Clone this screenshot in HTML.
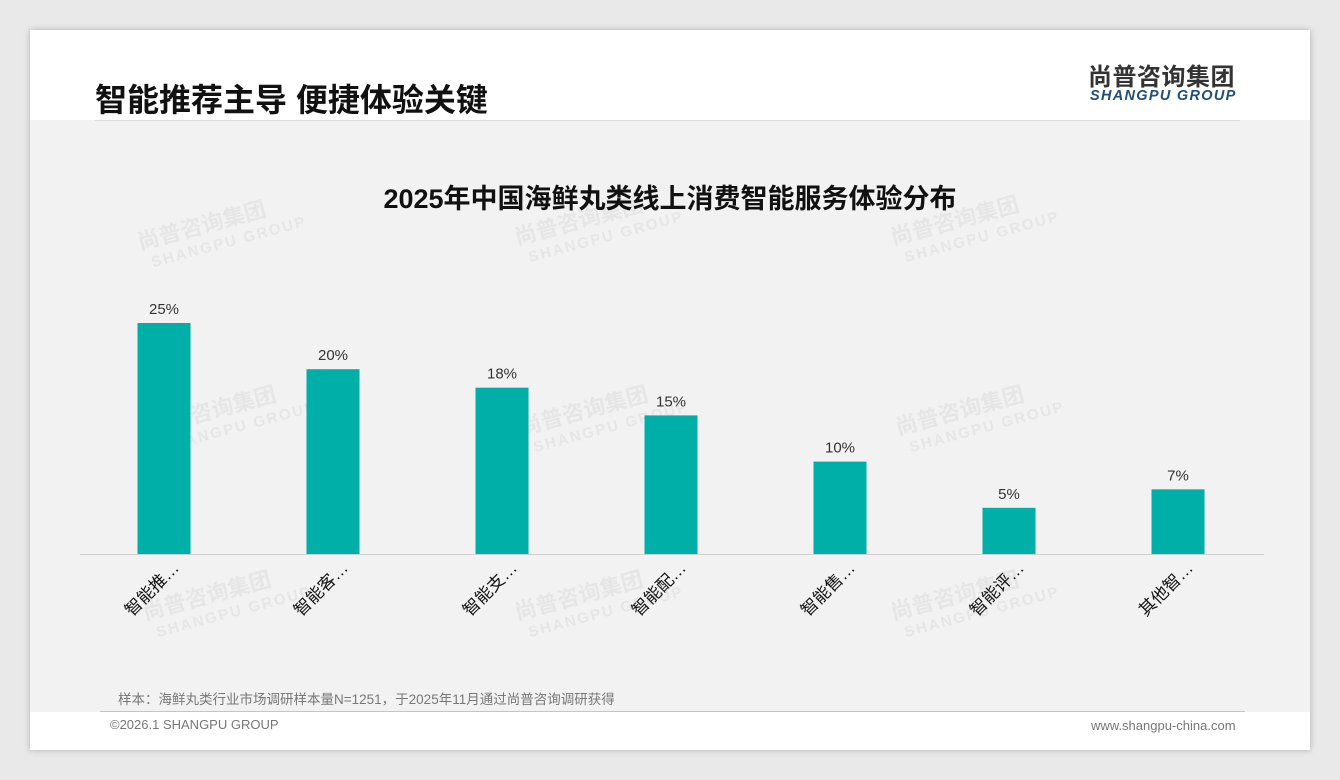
<!DOCTYPE html>
<html><head><meta charset="utf-8"><style>
body{margin:0;width:1340px;height:780px;background:#e9e9e9;font-family:"Liberation Sans","Noto Sans CJK SC",sans-serif;position:relative;overflow:hidden}
.card{position:absolute;left:30px;top:30px;width:1280px;height:720px;background:#fff;box-shadow:0 0 6px rgba(0,0,0,.25)}
.content{position:absolute;left:30px;top:120px;width:1280px;height:592px;background:#f2f2f2}
.abs{position:absolute}
</style></head><body>
<div class="card"></div>
<div class="content"></div>
<svg class="abs" style="left:0;top:0" width="1340" height="780" id="chart"></svg>
<div class="abs" style="left:95px;top:75px;font-size:32px;font-weight:bold;color:#111">智能推荐主导 便捷体验关键</div>
<div class="abs" style="left:1088px;top:57px;font-size:24px;font-weight:bold;color:#333;letter-spacing:0.5px">尚普咨询集团</div>
<div class="abs" style="left:1090px;top:88px;font-size:14.5px;font-weight:bold;font-style:italic;color:#1f4e79;letter-spacing:1.3px">SHANGPU GROUP</div>
<div class="abs" style="left:95px;top:120px;width:1145px;height:1px;background:#ddd"></div>
<div class="abs" style="left:0;width:1340px;text-align:center;top:177px;font-size:27px;font-weight:bold;color:#111">2025年中国海鲜丸类线上消费智能服务体验分布</div>
<div class="abs" style="left:118px;top:688px;font-size:13.5px;color:#777">样本：海鲜丸类行业市场调研样本量N=1251，于2025年11月通过尚普咨询调研获得</div>
<div class="abs" style="left:100px;top:711px;width:1145px;height:1px;background:#b8c8d8"></div>
<div class="abs" style="left:110px;top:717px;font-size:13px;color:#777">©2026.1 SHANGPU GROUP</div>
<div class="abs" style="left:1091px;top:718px;font-size:13px;color:#777">www.shangpu-china.com</div>
<script>
const categories=["智能推…","智能客…","智能支…","智能配…","智能售…","智能评…","其他智…"];
const values=[25,20,18,15,10,5,7];
const labels=["25%","20%","18%","15%","10%","5%","7%"];
const svg=document.getElementById('chart');const NS="http://www.w3.org/2000/svg";
const baseY=554,scale=9.24,x0=164,step=169,bw=53;
const xS=i=>x0+i*step, yS=v=>baseY-v*scale;
function mk(t,a){const e=document.createElementNS(NS,t);for(const k in a)e.setAttribute(k,a[k]);svg.appendChild(e);return e;}
[[140,250],[517,245],[893,245],[150,435],[522,435],[898,435],[145,620],[517,620],[893,620]].forEach(p=>{
 const g=mk('g',{transform:`translate(${p[0]},${p[1]}) rotate(-15)`});
 
 
 const t1=document.createElementNS(NS,'text');t1.setAttribute('font-size','22');t1.setAttribute('font-weight','bold');t1.setAttribute('fill','#e6e6e6');t1.textContent='尚普咨询集团';g.appendChild(t1);
 const t2=document.createElementNS(NS,'text');t2.setAttribute('y','20');t2.setAttribute('x','8');t2.setAttribute('font-size','15');t2.setAttribute('font-weight','bold');t2.setAttribute('letter-spacing','2');t2.setAttribute('fill','#e6e6e6');t2.textContent='SHANGPU GROUP';g.appendChild(t2);
});
const ax=mk('line',{x1:80,x2:1264,y1:baseY+0.5,y2:baseY+0.5,stroke:'#d0d0d0','stroke-width':1});


values.forEach((v,i)=>{
 const r=mk('rect',{x:xS(i)-bw/2,y:yS(v),width:bw,height:baseY-yS(v),fill:'#00b0a8'});
 
 
 const t=mk('text',{x:xS(i),y:yS(v)-9,'text-anchor':'middle','font-size':15,fill:'#333'});
 
 
 t.textContent=labels[i];
 const c=mk('text',{transform:`translate(${xS(i)+16},${baseY+15}) rotate(-45)`,'text-anchor':'end','font-size':17,fill:'#111'});
 
 
 c.textContent=categories[i];
});
</script>
</body></html>
